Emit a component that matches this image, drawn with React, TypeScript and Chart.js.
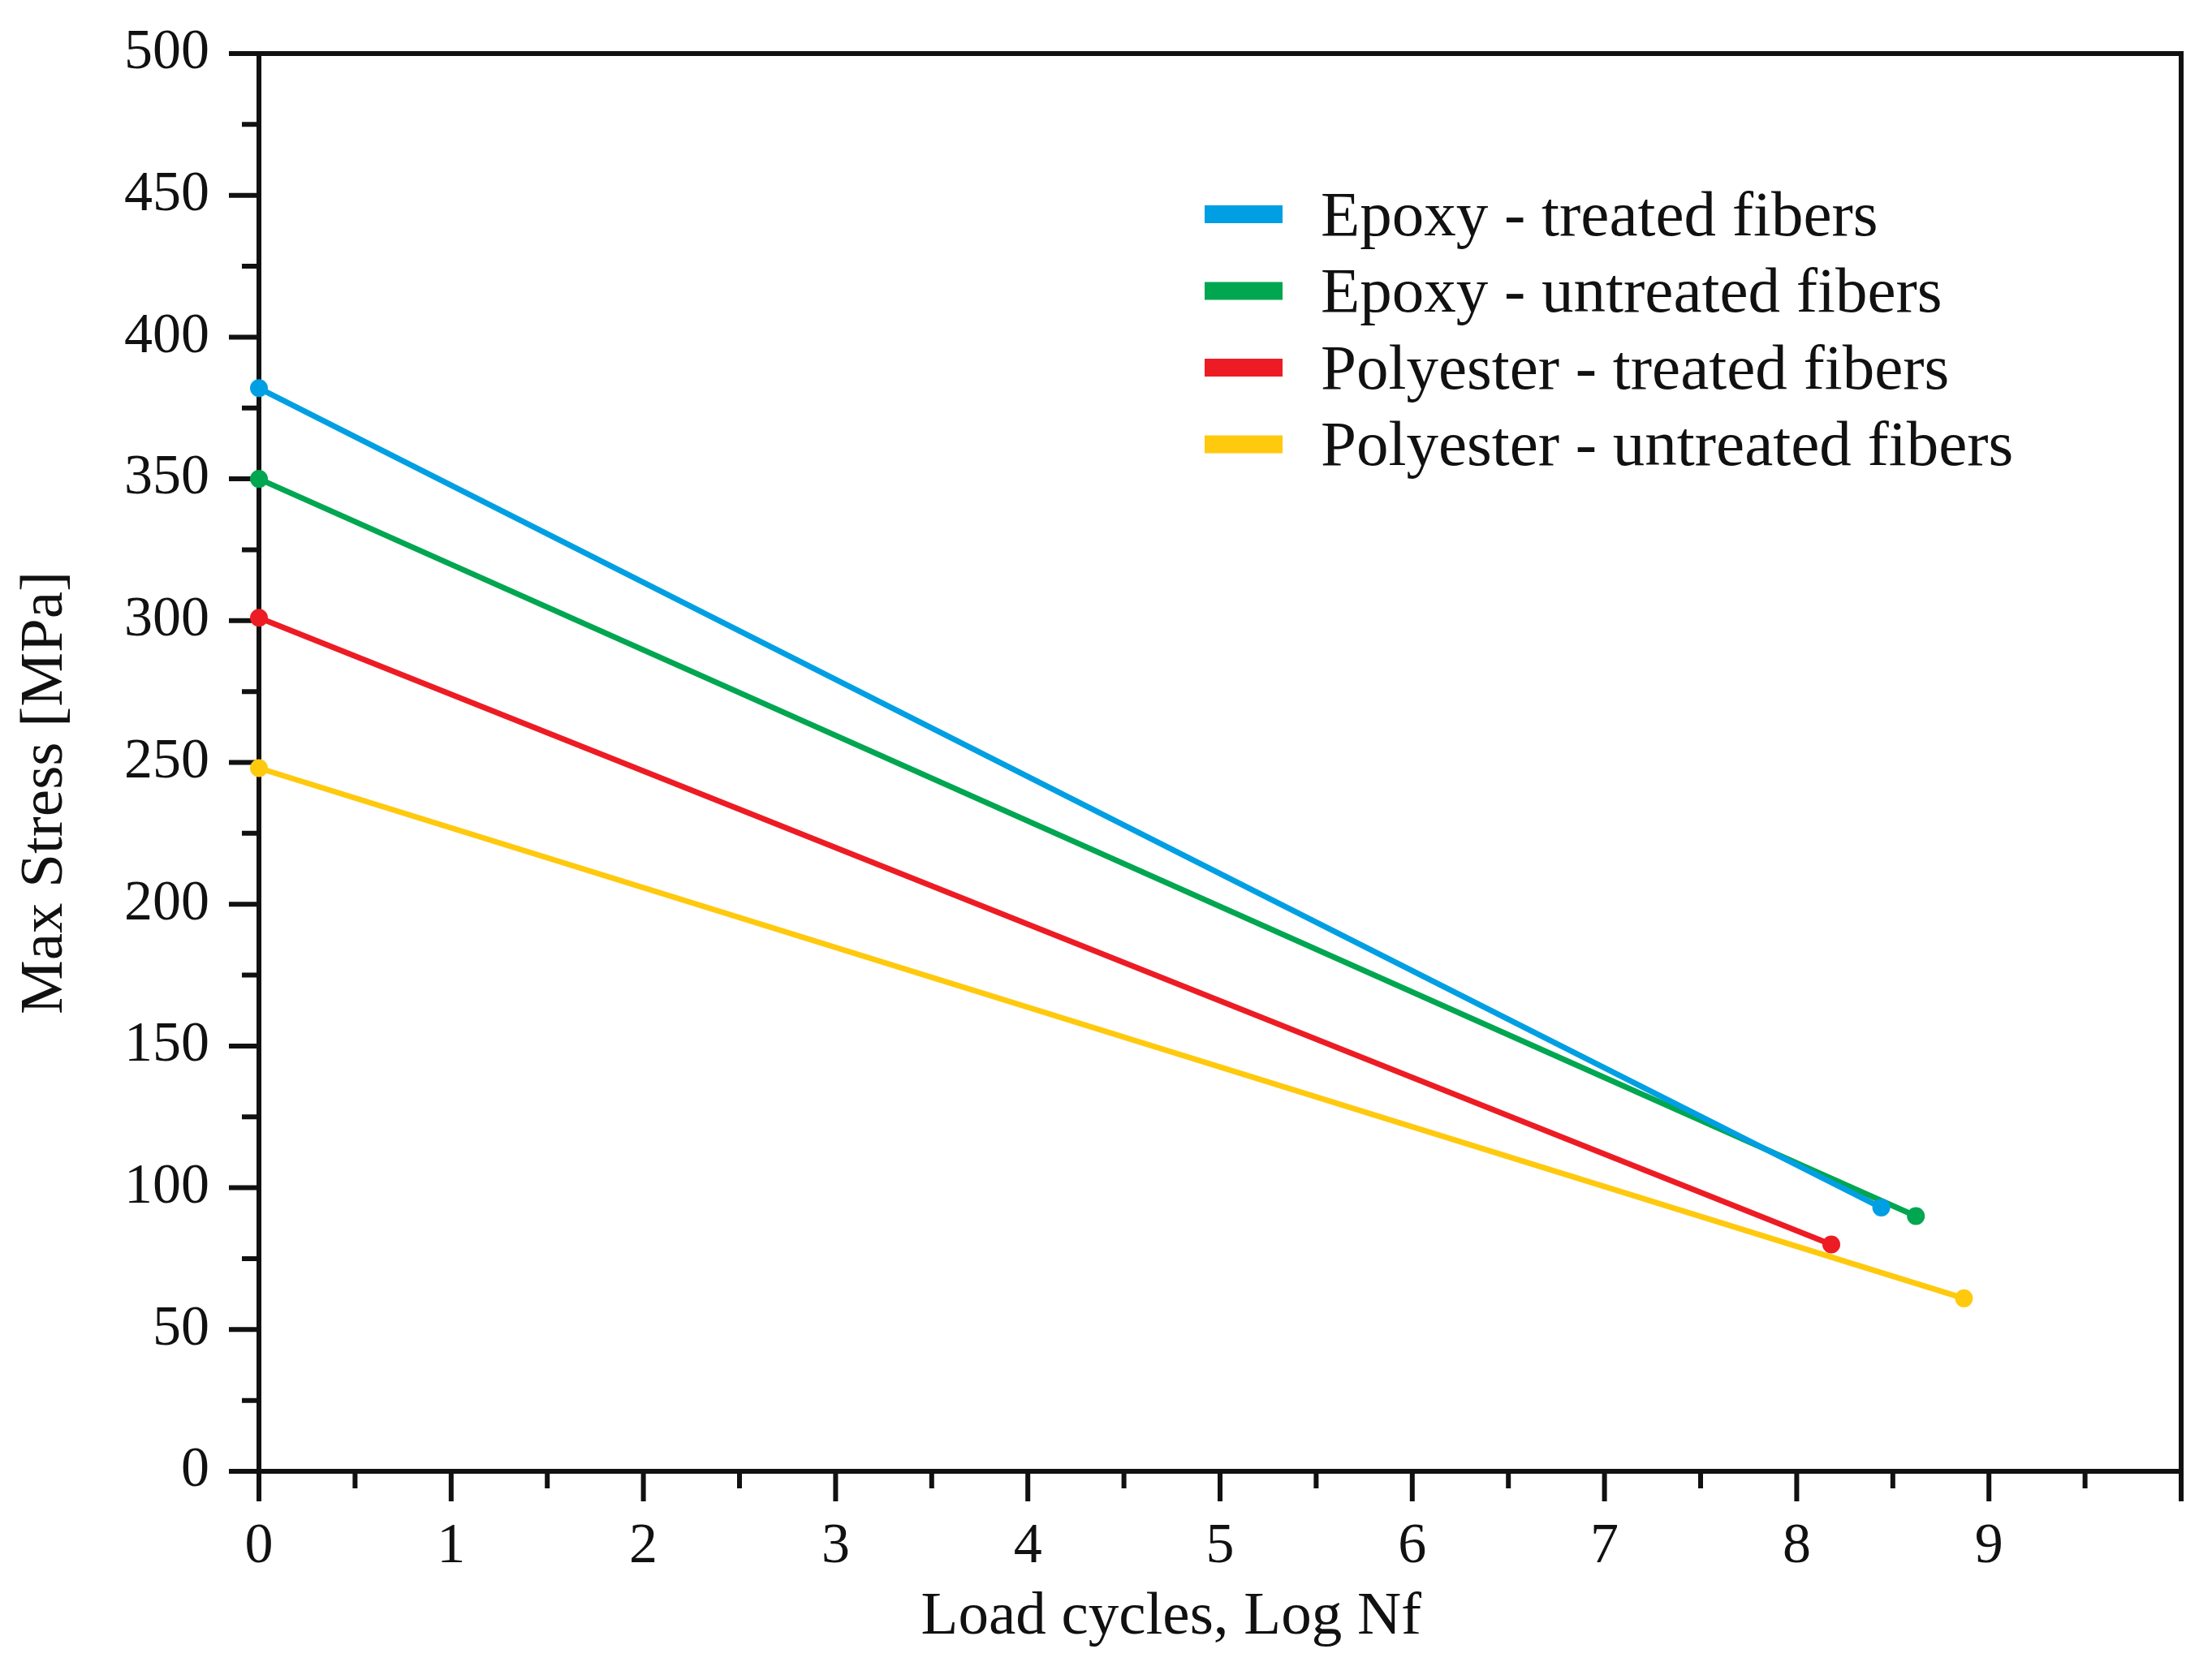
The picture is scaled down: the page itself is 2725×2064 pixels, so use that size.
import React, { useEffect, useRef } from "react";
import { Chart, registerables } from "chart.js";

Chart.register(...registerables);

// ---- data ----
const seriesLabels = [
  "Epoxy - treated fibers",
  "Epoxy - untreated fibers",
  "Polyester - treated fibers",
  "Polyester - untreated fibers",
];
const seriesColors = ["#009FE3", "#00A650", "#ED1C24", "#FFC90E"];

const epoxyTreatedLogN = [0, 8.44];
const epoxyTreatedStress = [382, 93];
const epoxyUntreatedLogN = [0, 8.62];
const epoxyUntreatedStress = [350, 90];
const polyTreatedLogN = [0, 8.18];
const polyTreatedStress = [301, 80];
const polyUntreatedLogN = [0, 8.87];
const polyUntreatedStress = [248, 61];

const xTickLabels = ["0", "1", "2", "3", "4", "5", "6", "7", "8", "9"];
const yTickLabels = ["0", "50", "100", "150", "200", "250", "300", "350", "400", "450", "500"];

const xTitle = "Load cycles, Log Nf";
const yTitle = "Max Stress [MPa]";

const FONT = "'Liberation Serif', 'Times New Roman', serif";
const INK = "#111111";

function pts(xs: number[], ys: number[]) {
  return xs.map((x, i) => ({ x, y: ys[i] }));
}

const framePlugin = {
  id: "frame",
  beforeDatasetsDraw(chart: any) {
    const { ctx } = chart;
    const xs = chart.scales.x;
    const ys = chart.scales.y;
    const x0 = xs.getPixelForValue(xs.min);
    const x1 = xs.getPixelForValue(xs.max);
    const y0 = ys.getPixelForValue(ys.min);
    const y1 = ys.getPixelForValue(ys.max);
    ctx.save();
    ctx.strokeStyle = INK;
    ctx.lineWidth = 6;
    ctx.lineCap = "butt";
    ctx.beginPath();
    ys.ticks.forEach((t: any) => {
      const p = ys.getPixelForValue(t.value);
      const major = Math.round(t.value) % 50 === 0;
      const len = major ? 37 : 21;
      ctx.moveTo(x0 - len, p);
      ctx.lineTo(x0, p);
    });
    xs.ticks.forEach((t: any) => {
      const p = xs.getPixelForValue(t.value);
      const major = Math.abs(t.value - Math.round(t.value)) < 1e-6;
      const len = major ? 37 : 21;
      ctx.moveTo(p, y0);
      ctx.lineTo(p, y0 + len);
    });
    ctx.stroke();
    ctx.lineJoin = "miter";
    ctx.strokeRect(x0, y1, x1 - x0, y0 - y1);
    ctx.restore();
  },
  afterDraw(chart: any) {
    const { ctx } = chart;
    const xs = chart.scales.x;
    ctx.save();
    ctx.fillStyle = INK;
    ctx.textBaseline = "middle";
    // x axis title
    ctx.font = `75px ${FONT}`;
    ctx.textAlign = "center";
    ctx.fillText(xTitle, xs.getPixelForValue(4.75) - 1, 1993);
    // y axis title
    ctx.save();
    ctx.translate(56, 977);
    ctx.rotate(-Math.PI / 2);
    ctx.fillText(yTitle, 0, 0);
    ctx.restore();
    // legend
    ctx.font = `79px ${FONT}`;
    ctx.textAlign = "left";
    chart.data.datasets.forEach((ds: any, i: number) => {
      const cy = 264 + i * 94.5;
      ctx.fillStyle = ds.borderColor;
      ctx.fillRect(1484, cy - 11, 96, 22);
      ctx.fillStyle = INK;
      ctx.fillText(ds.label, 1627, cy + 5);
    });
    ctx.restore();
  },
};

export default function App() {
  const ref = useRef<HTMLCanvasElement | null>(null);

  useEffect(() => {
    if (!ref.current) return;
    const series = [
      pts(epoxyTreatedLogN, epoxyTreatedStress),
      pts(epoxyUntreatedLogN, epoxyUntreatedStress),
      pts(polyTreatedLogN, polyTreatedStress),
      pts(polyUntreatedLogN, polyUntreatedStress),
    ];
    const chart = new Chart(ref.current, {
      type: "scatter",
      data: {
        datasets: series.map((data, i) => ({
          label: seriesLabels[i],
          data,
          showLine: true,
          borderColor: seriesColors[i],
          backgroundColor: seriesColors[i],
          borderWidth: 7,
          pointRadius: 11,
          pointBorderWidth: 0,
          pointBackgroundColor: seriesColors[i],
          clip: false,
        })),
      },
      options: {
        animation: false,
        responsive: true,
        maintainAspectRatio: false,
        devicePixelRatio: 1,
        layout: { padding: { top: 61, right: 38, left: 0, bottom: 0 } },
        plugins: {
          legend: { display: false },
          tooltip: { enabled: false },
        },
        scales: {
          x: {
            type: "linear",
            min: 0,
            max: 10,
            afterFit: (s: any) => {
              s.height = 251;
            },
            grid: {
              drawOnChartArea: false,
              drawTicks: true,
              tickLength: 37,
              color: "rgba(0,0,0,0)",
            },
            border: { display: false },
            ticks: {
              stepSize: 0.5,
              autoSkip: false,
              maxRotation: 0,
              padding: 15,
              color: INK,
              font: { family: FONT, size: 70 },
              callback: (v: any) => {
                const n = Number(v);
                if (Math.abs(n - Math.round(n)) > 1e-6) return "";
                const idx = Math.round(n);
                return idx < xTickLabels.length ? xTickLabels[idx] : "";
              },
            },
            title: { display: false, text: xTitle },
          },
          y: {
            type: "linear",
            min: 0,
            max: 500,
            afterFit: (s: any) => {
              s.width = 319;
            },
            grid: {
              drawOnChartArea: false,
              drawTicks: true,
              tickLength: 37,
              color: "rgba(0,0,0,0)",
            },
            border: { display: false },
            ticks: {
              stepSize: 25,
              autoSkip: false,
              padding: 24,
              color: INK,
              font: { family: FONT, size: 70 },
              callback: (v: any) => {
                const n = Math.round(Number(v));
                if (n % 50 !== 0) return "";
                return yTickLabels[n / 50] ?? "";
              },
            },
            title: { display: false, text: yTitle },
          },
        },
      },
      plugins: [framePlugin],
    });
    return () => chart.destroy();
  }, []);

  return (
    <div
      style={{
        position: "fixed",
        left: 0,
        top: 0,
        width: "2725px",
        height: "2064px",
        background: "#fff",
      }}
    >
      <canvas ref={ref} />
    </div>
  );
}
